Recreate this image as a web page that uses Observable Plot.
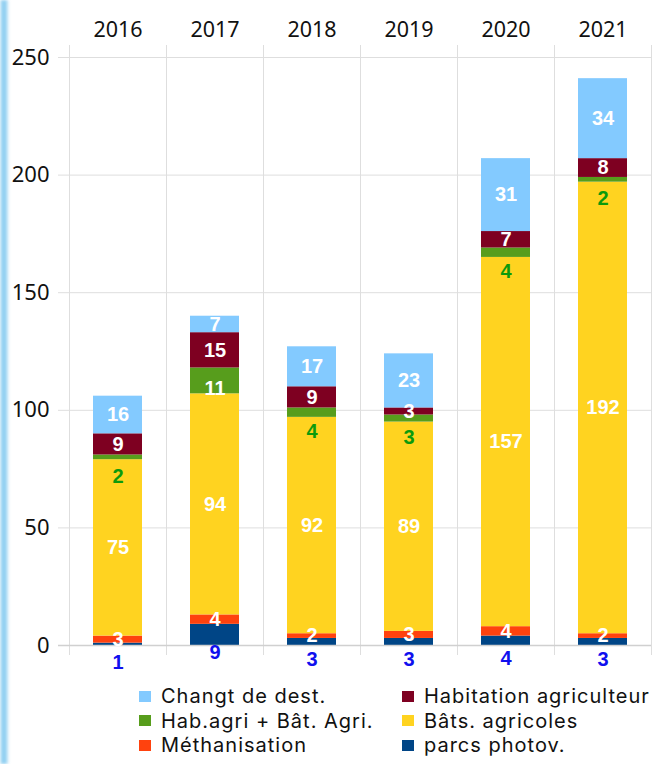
<!DOCTYPE html>
<html>
<head>
<meta charset="utf-8">
<script src="https://cdn.jsdelivr.net/npm/d3@7"></script>
<script src="https://cdn.jsdelivr.net/npm/@observablehq/plot@0.6"></script>
<style>
  html, body { margin: 0; padding: 0; background: #fff; }
  body { width: 657px; height: 764px; overflow: hidden; position: relative; font-family: "Noto Sans", sans-serif; }
  #stripe { position: absolute; left: 0; top: 0; width: 9px; height: 764px;
    background: linear-gradient(to right, #c9e9f8 0%, #86cbf0 35%, #9fd6f3 70%, rgba(255,255,255,0) 100%);
    filter: blur(1.5px); }
  #legend { position: absolute; left: 139px; top: 684px; display: grid;
    grid-template-columns: 263px auto; row-gap: 0px; font-family: Inter, sans-serif; font-size: 20px; line-height: 24px; letter-spacing: 1px; color: #111; }
  .item { display: flex; align-items: center; height: 24.5px; white-space: nowrap; }
  .sw { width: 12px; height: 11px; margin-right: 10px; flex: none; }
  svg { display: block; }
</style>
</head>
<body>
<div id="chart"></div>
<div id="legend"></div>
<div id="stripe"></div>
<script>
const years = ["2016", "2017", "2018", "2019", "2020", "2021"];
// stack order, bottom to top
const series = ["parcs photov.", "Méthanisation", "Bâts. agricoles", "Hab.agri + Bât. Agri.", "Habitation agriculteur", "Changt de dest."];
const colors = ["#004586", "#ff420e", "#ffd320", "#579d1c", "#7e0021", "#83caff"];
const photov      = [1, 9, 3, 3, 4, 3];
const methanisation = [3, 4, 2, 3, 4, 2];
const batsAgricoles = [75, 94, 92, 89, 157, 192];
const habAgriBat  = [2, 11, 4, 3, 4, 2];
const habitation  = [9, 15, 9, 3, 7, 8];
const changt      = [16, 7, 17, 23, 31, 34];
const yTicks = [0, 50, 100, 150, 200, 250];
const legendOrder = ["Changt de dest.", "Habitation agriculteur", "Hab.agri + Bât. Agri.", "Bâts. agricoles", "Méthanisation", "parcs photov."];

const valuesBySeries = [photov, methanisation, batsAgricoles, habAgriBat, habitation, changt];

// long table with stacked positions
const rows = [];
years.forEach((yr, i) => {
  let cum = 0;
  series.forEach((s, k) => {
    const v = valuesBySeries[k][i];
    rows.push({year: yr, series: s, value: v, y1: cum, y2: cum + v, mid: cum + v / 2, k});
    cum += v;
  });
});

const W = 657, H = 680, mL = 69, mR = 6, mT = 57, mB = 35;
const step = (W - mL - mR) / years.length;

const whiteLabels = rows.filter(d => d.k === 1 || d.k === 2 || d.k === 4 || d.k === 5);
const greenSmall = rows.filter(d => d.k === 3 && d.value < 5);
const greenBig = rows.filter(d => d.k === 3 && d.value >= 5);
const blueLabels = rows.filter(d => d.k === 0);

const labelFont = {fontFamily: "Liberation Sans, Arial, sans-serif", fontWeight: "bold", fontSize: 20};

const plot = Plot.plot({
  width: W, height: H,
  marginLeft: mL, marginRight: mR, marginTop: mT, marginBottom: mB,
  style: {fontFamily: "Noto Sans, sans-serif", background: "#fff", overflow: "visible"},
  x: {domain: years, paddingInner: 0.5, paddingOuter: 0.25, axis: null},
  y: {domain: [0, 250], axis: null},
  color: {domain: series, range: colors},
  marks: [
    Plot.ruleY(yTicks, {y: d => d, stroke: "#dedede", strokeWidth: 1, insetLeft: -11}),
    Plot.ruleX(years, {x: d => d, dx: -step / 2, stroke: "#dedede", insetTop: -12, insetBottom: -10}),
    Plot.ruleX([years[years.length - 1]], {x: d => d, dx: step / 2, stroke: "#dedede", insetTop: -12, insetBottom: -10}),
    Plot.barY(rows, {x: "year", y1: "y1", y2: "y2", fill: "series"}),
    Plot.ruleY([0], {stroke: "#d0d0d0", strokeWidth: 1.5, insetLeft: -11}),
    Plot.text(whiteLabels, {x: "year", y: "mid", text: d => String(d.value), fill: "white", ...labelFont}),
    Plot.text(greenBig, {x: "year", y: "mid", text: d => String(d.value), fill: "white", dy: 8, ...labelFont}),
    Plot.text(greenSmall, {x: "year", y: "mid", text: d => String(d.value), fill: "#0c9a0c", dy: 19, ...labelFont}),
    Plot.text(blueLabels, {x: "year", y: "mid", text: d => String(d.value), fill: "#1010ee", dy: 18, ...labelFont}),
    Plot.axisX({anchor: "top", tickSize: 0, tickPadding: 21, fontSize: 21.5, fill: "#111", label: null}),
    Plot.axisY({ticks: yTicks, tickSize: 0, tickPadding: 20, fontSize: 22, fill: "#111", label: null, tickFormat: d => String(d)})
  ]
});
document.getElementById("chart").appendChild(plot);

const lg = document.getElementById("legend");
legendOrder.forEach(name => {
  const it = document.createElement("div");
  it.className = "item";
  const sw = document.createElement("span");
  sw.className = "sw";
  sw.style.background = colors[series.indexOf(name)];
  const tx = document.createElement("span");
  tx.textContent = name;
  it.appendChild(sw); it.appendChild(tx);
  lg.appendChild(it);
});
</script>
</body>
</html>
